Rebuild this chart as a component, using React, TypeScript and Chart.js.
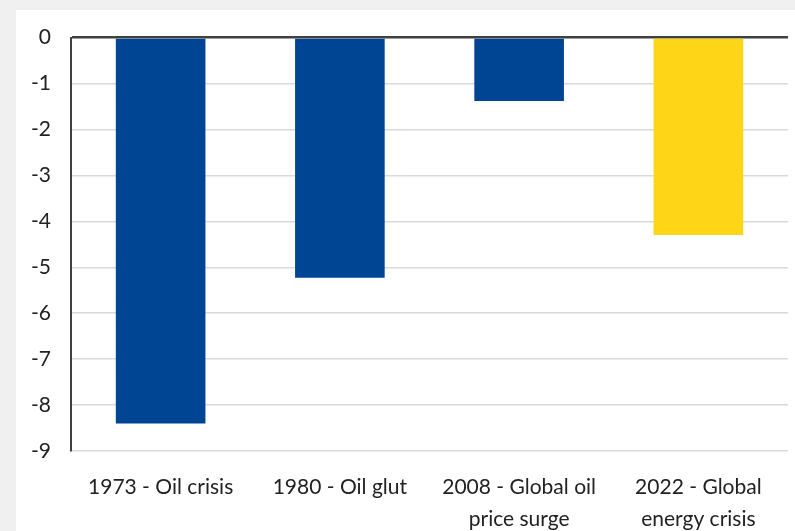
import React, { useEffect, useRef } from "react";
import { Chart, registerables } from "chart.js";

Chart.register(...registerables);

const categories: (string | string[])[] = [
  "1973 - Oil crisis",
  "1980 - Oil glut",
  ["2008 - Global oil", "price surge"],
  ["2022 - Global", "energy crisis"],
];
const values = [-8.4, -5.23, -1.38, -4.3];
const barColors = ["#004494", "#004494", "#004494", "#FFD617"];
const yMin = -9;
const yMax = 0;

export default function App() {
  const ref = useRef<HTMLCanvasElement | null>(null);

  useEffect(() => {
    document.body.style.margin = "0";
    const ctx = ref.current!;
    const font = { family: "Lato, 'Open Sans', sans-serif", size: 21 };
    const chart = new Chart(ctx, {
      type: "bar",
      data: {
        labels: categories,
        datasets: [
          {
            data: values,
            backgroundColor: barColors,
            borderWidth: 0,
            categoryPercentage: 1,
            barPercentage: 0.5,
          },
        ],
      },
      options: {
        animation: false,
        responsive: false,
        maintainAspectRatio: false,
        layout: { padding: { top: 23, right: 7, left: 0, bottom: 0 } },
        plugins: { legend: { display: false }, tooltip: { enabled: false } },
        scales: {
          x: {
            grid: { display: false },
            border: { display: false },
            afterFit: (s: any) => {
              s.height = 81;
            },
            ticks: {
              color: "#222",
              font: { ...font, lineHeight: 1.52 },
              padding: 12,
              maxRotation: 0,
              autoSkip: false,
            },
          },
          y: {
            min: yMin,
            max: yMax,
            afterFit: (s: any) => {
              s.width = 55;
            },
            ticks: {
              stepSize: 1,
              color: "#222",
              font,
              padding: 20,
            },
            border: { display: true, color: "#404040", width: 2 },
            grid: {
              drawTicks: false,
              color: (c: any) => (c.tick && c.tick.value === 0 ? "#404040" : "#d9d9d9"),
              lineWidth: (c: any) => (c.tick && c.tick.value === 0 ? 2.5 : 1.5),
            },
          },
        },
      },
    });
    return () => chart.destroy();
  }, []);

  return (
    <div
      style={{
        position: "absolute",
        left: 0,
        top: 0,
        width: 795,
        height: 531,
        background: "#f0f0f0",
        overflow: "hidden",
      }}
    >
      <div
        style={{
          position: "absolute",
          left: 16,
          top: 10,
          width: 779,
          height: 521,
          background: "#ffffff",
          overflow: "hidden",
        }}
      >
        <canvas
          ref={ref}
          width={779}
          height={527}
          style={{ display: "block", position: "absolute", left: 0, top: -5 }}
        />
      </div>
    </div>
  );
}
